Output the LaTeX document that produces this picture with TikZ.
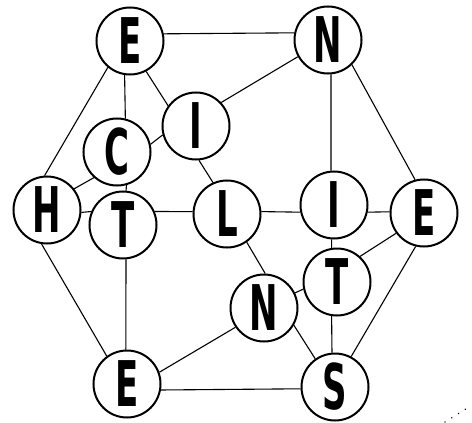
\documentclass[tikz,border=0pt]{standalone}
\usepackage{fontspec}
\newfontfamily\letterfont{DejaVu Sans Condensed Bold}
\newcommand{\lt}[1]{\scalebox{0.6}[1]{#1}}
\begin{document}
\begin{tikzpicture}[x=1pt,y=-1pt,
  ball/.style={circle,draw=black,line width=2pt,fill=white,minimum size=67pt,inner sep=0pt,
    text height=45pt,text depth=0pt,
    font=\letterfont\fontsize{63}{63}\selectfont},
  edge/.style={line width=1.1pt}]
\useasboundingbox (0,0) rectangle (472,423);
\node[ball] (E1) at (130,41) {\lt{E}};
\node[ball] (N1) at (328,40) {\lt{N}};
\node[ball] (I1) at (196,126) {\lt{I}};
\node[ball] (C) at (117,152) {\lt{C}};
\node[ball] (H) at (47,210) {\lt{H}};
\node[ball] (T1) at (123,225) {\lt{T}};
\node[ball] (L) at (227,214) {\lt{L}};
\node[ball] (I2) at (334,205) {\lt{I}};
\node[ball] (E2) at (424,213) {\lt{E}};
\node[ball] (T2) at (337,282) {\lt{T}};
\node[ball] (N2) at (264,308) {\lt{N}};
\node[ball] (E3) at (127,384) {\lt{E}};
\node[ball] (S) at (335,387) {\lt{S}};
\draw[edge] (E1.12) -- (N1.168);
\draw[edge] (E1.230) -- (H.94);
\draw[edge] (E1.261) -- (C.76);
\draw[edge] (E1.298) -- (I1.144);
\draw[edge] (I1.43) -- (N1.209);
\draw[edge] (I1.195) -- (C.13);
\draw[edge] (I1.275) -- (L.114);
\draw[edge] (N1.275) -- (I2.95);
\draw[edge] (N1.314) -- (E2.105);
\draw[edge] (H.38) -- (C.228);
\draw[edge] (H.356) -- (T1.157);
\draw[edge] (H.261) -- (E3.126);
\draw[edge] (C.286) -- (T1.85);
\draw[edge] (T1.23) -- (L.176);
\draw[edge] (T1.275) -- (E3.92);
\draw[edge] (L.4) -- (I2.192);
\draw[edge] (L.305) -- (N2.88);
\draw[edge] (I2.348) -- (E2.178);
\draw[edge] (I2.266) -- (T2.99);
\draw[edge] (E2.216) -- (T2.48);
\draw[edge] (E2.256) -- (S.62);
\draw[edge] (T2.192) -- (N2.26);
\draw[edge] (T2.261) -- (S.95);
\draw[edge] (N2.214) -- (E3.20);
\draw[edge] (N2.330) -- (S.125);
\draw[edge] (E3.350) -- (S.183);
\coordinate (d1) at (445,422);
\coordinate (d2) at (472,405);
\draw[line width=1.6pt,dash pattern=on 0.01pt off 8pt,line cap=round] (d1) -- (d2);
\end{tikzpicture}
\end{document}
